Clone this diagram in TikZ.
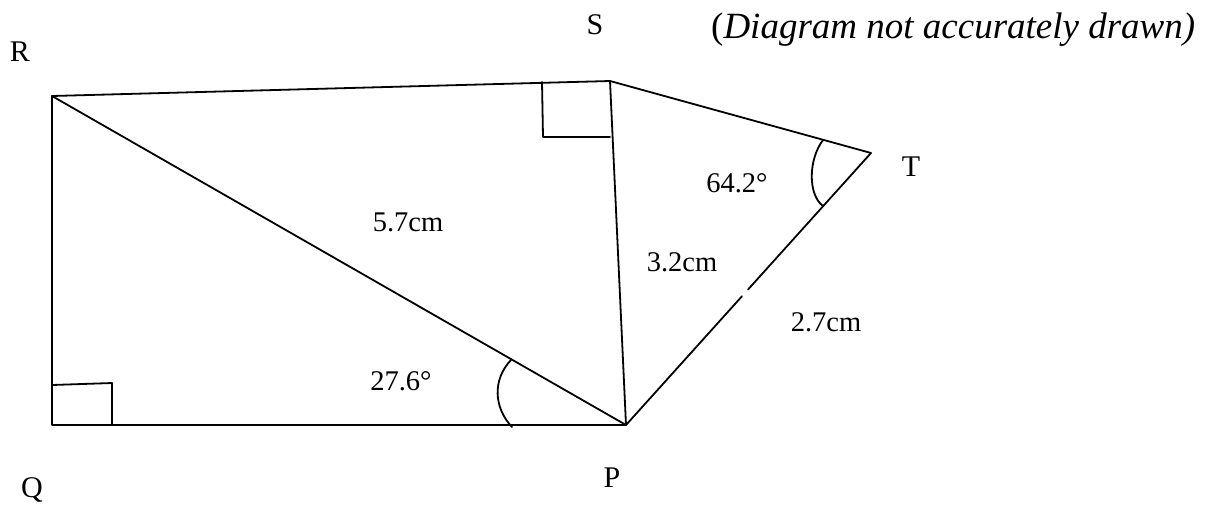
\documentclass[tikz,border=0pt]{standalone}
\usepackage{fontspec}
\setmainfont{Liberation Serif}
\usetikzlibrary{calc}
\begin{document}
\begin{tikzpicture}[x=1pt,y=-1pt,
  edge/.style={line width=1.8pt,line cap=round,line join=round},
  lbl/.style={inner sep=0pt,font=\fontsize{28.5}{32}\selectfont},
  vlbl/.style={inner sep=0pt,font=\fontsize{30}{34}\selectfont}]
\useasboundingbox[fill=white] (0,0) rectangle (1209,512);
% vertices
\coordinate (R) at (52,96);
\coordinate (Q) at (52,425);
\coordinate (P) at (626,425);
\coordinate (S) at (610,81);
\coordinate (T) at (871,153);
\coordinate (g1) at ($(P)!0.473!(T)$);
\coordinate (g2) at ($(P)!0.498!(T)$);
% sides
\draw[edge] (R) -- (Q) -- (P) -- (R);
\draw[edge] (R) -- (S) -- (P);
\draw[edge] (S) -- (T);
\draw[edge] (P) -- (g1);
\draw[edge] (g2) -- (T);
% right angles
\coordinate (q1) at (52,385);
\coordinate (q2) at (112,383);
\coordinate (q3) at (112,425);
\draw[edge] (q1) -- (q2) -- (q3);
\coordinate (s1) at (542,82);
\coordinate (s2) at (543,137);
\coordinate (s3) at (610,137);
\draw[edge] (s1) -- (s2) -- (s3);
% angle arcs
\coordinate (a1) at (511,360);
\coordinate (a2) at (512,427);
\draw[edge] (a1) .. controls (492,380) and (494,408) .. (a2);
\coordinate (b1) at (823,140);
\coordinate (b2) at (823,206);
\draw[edge] (b1) .. controls (808,160) and (808,195) .. (b2);
% vertex labels
\node[vlbl] (lR) at (20,52) {R};
\node[vlbl] (lS) at (595,25) {S};
\node[vlbl] (lQ) at (32,490) {Q};
\node[vlbl] (lP) at (612,478) {P};
\node[vlbl] (lT) at (911,167) {T};
% measurements
\node[lbl] (m1) at (408,222) {5.7cm};
\node[lbl] (m2) at (682,262) {3.2cm};
\node[lbl] (m3) at (826,322) {2.7cm};
\node[lbl] (m4) at (401,381) {27.6°};
\node[lbl] (m5) at (737,183) {64.2°};
% note
\node[inner sep=0pt,anchor=base west,font=\fontsize{37}{42}\selectfont] (note) at (711,38) {(\textit{Diagram not accurately drawn)}};
\end{tikzpicture}
\end{document}
